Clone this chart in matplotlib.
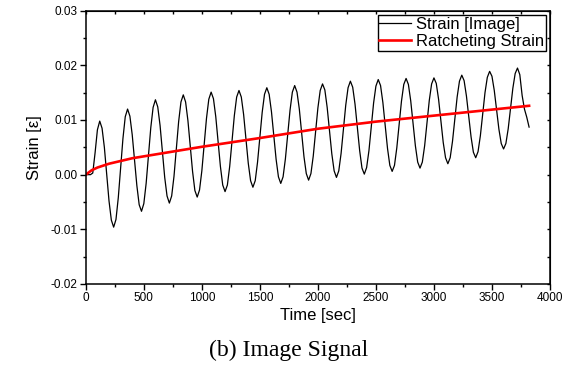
import numpy as np
import matplotlib
matplotlib.use("Agg")
import matplotlib.pyplot as plt
from matplotlib.ticker import MultipleLocator, FormatStrFormatter

plt.rcParams['font.family'] = ['Liberation Sans', 'DejaVu Sans']
plt.rcParams['axes.unicode_minus'] = False

# strain from image, sampled every 20 s
t_img = np.arange(0, 3821, 20)
strain_img = [
    0.0000, 0.0000, 0.0000, 0.0003, 0.0040, 0.0082, 0.0098,
    0.0085, 0.0050, 0.0001, -0.0048, -0.0083, -0.0096,
    -0.0082, -0.0042, 0.0012, 0.0066, 0.0106, 0.0120,
    0.0107, 0.0073, 0.0027, -0.0020, -0.0055, -0.0067,
    -0.0053, -0.0016, 0.0035, 0.0086, 0.0123, 0.0137,
    0.0124, 0.0090, 0.0043, -0.0005, -0.0039, -0.0052,
    -0.0039, -0.0003, 0.0047, 0.0097, 0.0133, 0.0146,
    0.0133, 0.0099, 0.0053, 0.0006, -0.0029, -0.0041,
    -0.0028, 0.0007, 0.0055, 0.0103, 0.0138, 0.0151,
    0.0139, 0.0106, 0.0060, 0.0015, -0.0019, -0.0031,
    -0.0019, 0.0015, 0.0062, 0.0108, 0.0142, 0.0154,
    0.0142, 0.0110, 0.0066, 0.0021, -0.0011, -0.0023,
    -0.0011, 0.0023, 0.0068, 0.0114, 0.0147, 0.0159,
    0.0147, 0.0115, 0.0072, 0.0028, -0.0004, -0.0016,
    -0.0004, 0.0029, 0.0074, 0.0118, 0.0151, 0.0163,
    0.0151, 0.0120, 0.0077, 0.0033, 0.0002, -0.0010,
    0.0002, 0.0034, 0.0078, 0.0122, 0.0154, 0.0166,
    0.0155, 0.0123, 0.0081, 0.0038, 0.0007, -0.0005,
    0.0007, 0.0039, 0.0083, 0.0127, 0.0159, 0.0171,
    0.0160, 0.0129, 0.0086, 0.0044, 0.0012, 0.0001,
    0.0013, 0.0044, 0.0088, 0.0131, 0.0162, 0.0174,
    0.0163, 0.0132, 0.0090, 0.0048, 0.0017, 0.0006,
    0.0017, 0.0049, 0.0091, 0.0134, 0.0165, 0.0176,
    0.0165, 0.0135, 0.0094, 0.0053, 0.0023, 0.0012,
    0.0023, 0.0053, 0.0095, 0.0136, 0.0166, 0.0177,
    0.0167, 0.0138, 0.0099, 0.0059, 0.0031, 0.0020,
    0.0031, 0.0061, 0.0101, 0.0142, 0.0171, 0.0182,
    0.0172, 0.0144, 0.0107, 0.0069, 0.0041, 0.0031,
    0.0042, 0.0071, 0.0110, 0.0150, 0.0178, 0.0189,
    0.0180, 0.0154, 0.0118, 0.0083, 0.0057, 0.0047,
    0.0057, 0.0084, 0.0121, 0.0158, 0.0185, 0.0195,
    0.0183, 0.0145, 0.0120, 0.0105, 0.0087,
]

# ratcheting strain
t_rat = [0, 50, 100, 200, 400, 600, 800, 1000, 1250, 1500, 2000, 2500, 3000, 3500, 3820]
strain_rat = [0.0000, 0.0008, 0.0013, 0.0020, 0.0030, 0.0037, 0.0044, 0.0051,
              0.0059, 0.0067, 0.0084, 0.0097, 0.0108, 0.0119, 0.0126]

fig = plt.figure(figsize=(5.72, 3.68), dpi=100)
ax = fig.add_axes([0.150, 0.2283, 0.8115, 0.7427])

ax.plot(t_img, strain_img, color='black', lw=0.9, label='Strain [Image]')
ax.plot(t_rat, strain_rat, color='#ff0000', lw=1.9, label='Ratcheting Strain')

ax.set_xlim(0, 4000)
ax.set_ylim(-0.02, 0.03)
ax.xaxis.set_major_locator(MultipleLocator(500))
ax.xaxis.set_minor_locator(MultipleLocator(250))
ax.yaxis.set_major_locator(MultipleLocator(0.01))
ax.yaxis.set_minor_locator(MultipleLocator(0.005))
ax.yaxis.set_major_formatter(FormatStrFormatter('%.2f'))
ax.tick_params(which='major', direction='out', length=4, width=1, labelsize=8.5, pad=2)
ax.tick_params(which='minor', direction='out', length=2.5, width=1)
for s in ax.spines.values():
    s.set_linewidth(1.1)

# inward ticks on top and right
top = ax.secondary_xaxis('top')
top.xaxis.set_major_locator(MultipleLocator(500))
top.xaxis.set_minor_locator(MultipleLocator(250))
top.tick_params(which='both', direction='in', labeltop=False, length=2.5, width=1)
right = ax.secondary_yaxis('right')
right.yaxis.set_major_locator(MultipleLocator(0.01))
right.yaxis.set_minor_locator(MultipleLocator(0.005))
right.tick_params(which='both', direction='in', labelright=False, length=2.5, width=1)

ax.set_xlabel('Time [sec]', fontsize=12, labelpad=3)
ax.set_ylabel('Strain [ε]', fontsize=12, labelpad=6)

leg = ax.legend(loc='upper right', fontsize=12, frameon=True, fancybox=False,
                edgecolor='black', framealpha=1, borderpad=0.1, labelspacing=0.15,
                handlelength=1.9, handletextpad=0.3, borderaxespad=0.25)
leg.get_frame().set_linewidth(1.0)

fig.text(289 / 572, 1 - 350 / 368, '(b) Image Signal', fontsize=17,
         family='Liberation Serif', ha='center', va='center')

fig.savefig('out.png', dpi=100)
